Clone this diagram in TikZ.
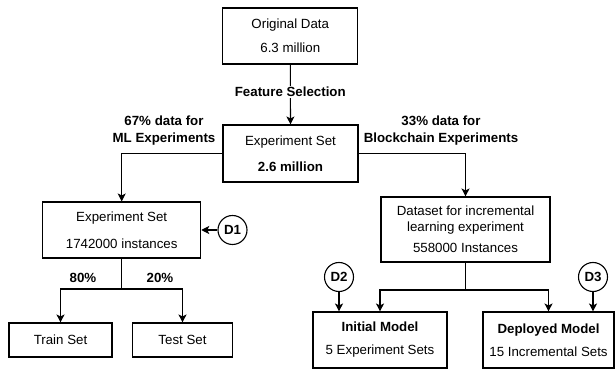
\documentclass[tikz,border=0pt]{standalone}
\usepackage{fontspec}
\setmainfont{Liberation Sans}
\usetikzlibrary{arrows.meta}
\begin{document}
\begin{tikzpicture}[x=1pt,y=-1pt,
  every node/.style={font=\fontsize{13.3}{16}\selectfont},
  box/.style={draw, line width=1.1pt, inner sep=0pt, align=center},
  dot/.style={draw, circle, line width=1.1pt, minimum size=29pt, inner sep=0pt, font=\fontsize{13.3}{16}\selectfont\bfseries},
  tag/.style={align=center, inner sep=1pt, font=\fontsize{13.3}{17}\selectfont\bfseries},
  link/.style={line width=1.1pt},
  arr/.style={line width=1.1pt, -{Stealth[length=8pt,width=8pt,inset=2pt]}}]
\useasboundingbox (0,0) rectangle (616,371);

% top chain
\node[box, minimum width=135pt, minimum height=56pt] (orig) at (290.3,36)
  {Original Data\\[8pt]6.3 million};
\node[box, minimum width=135pt, minimum height=57pt] (mid) at (290.5,153.5)
  {Experiment Set\\[10pt]\textbf{2.6 million}};

% left branch
\node[box, minimum width=158pt, minimum height=56pt] (left) at (121.7,230)
  {Experiment Set\\[11pt]1742000 instances};
\node[box, minimum width=103pt, minimum height=34pt] (train) at (60.5,340) {Train Set};
\node[box, minimum width=100pt, minimum height=34pt] (test) at (182.5,340) {Test Set};
\node[dot] (d1) at (232.5,230) {D1};

% right branch
\node[box, minimum width=169pt, minimum height=65pt] (data) at (465.5,229.5)
  {Dataset for incremental\\learning experiment\\[5pt]558000 Instances};
\node[box, minimum width=134pt, minimum height=56pt] (init) at (380,340)
  {\textbf{Initial Model}\\[7pt]5 Experiment Sets};
\node[box, minimum width=131pt, minimum height=56pt] (depl) at (548.5,340)
  {\textbf{Deployed Model}\\[7pt]15 Incremental Sets};
\node[dot] (d2) at (339,277) {D2};
\node[dot] (d3) at (593,277) {D3};

% split points
\coordinate (lsplit) at (121.7,289);
\coordinate (rsplit) at (465.5,290);

% connectors
\draw[arr] (orig.south) -- (mid.north);
\node[tag, fill=white] (fs) at (290.3,92) {Feature Selection};
\draw[arr] (mid.west) -| (left.north);
\draw[arr] (mid.east) -| (data.north);
\node[tag] (mlsplit) at (164,131) {67\% data for\\ML Experiments};
\node[tag] (bcsplit) at (441,131) {33\% data for\\Blockchain Experiments};

\draw[link] (left.south) -- (lsplit);
\draw[arr] (lsplit) -| (train.north);
\draw[arr] (lsplit) -| (test.north);
\node[tag] (p80) at (83,278) {80\%};
\node[tag] (p20) at (160,278) {20\%};
\draw[arr] (d1.west) -- (left.east);

\draw[link] (data.south) -- (rsplit);
\draw[arr] (rsplit) -| (init.north);
\draw[arr] (rsplit) -| (depl.north);
\draw[arr] (d2.south) -- (d2.south |- init.north);
\draw[arr] (d3.south) -- (d3.south |- depl.north);
\end{tikzpicture}
\end{document}
